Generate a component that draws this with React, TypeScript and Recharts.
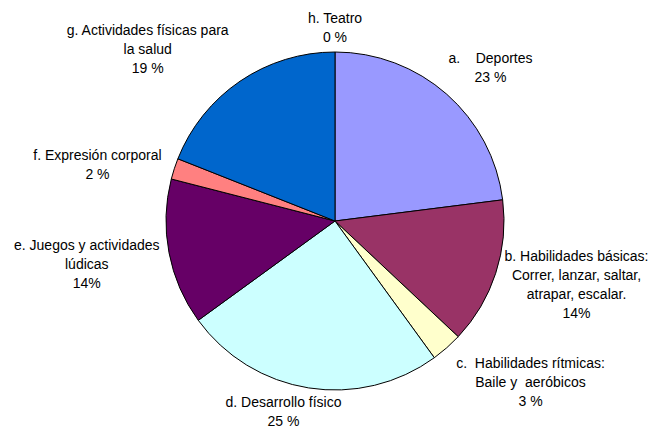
import { PieChart, Pie, Cell } from 'recharts';

const categories = [
  'a. Deportes',
  'b. Habilidades básicas',
  'c. Habilidades rítmicas',
  'd. Desarrollo físico',
  'e. Juegos y actividades lúdicas',
  'f. Expresión corporal',
  'g. Actividades físicas para la salud',
  'h. Teatro',
];

const percents = [23, 14, 3, 25, 14, 2, 19, 0];

const labelLines = [
  ['a.    Deportes', '23 %'],
  ['b. Habilidades básicas:', 'Correr, lanzar, saltar,', 'atrapar, escalar.', '14%'],
  ['c.  Habilidades rítmicas:', 'Baile y  aeróbicos', '3 %'],
  ['d. Desarrollo físico', '25 %'],
  ['e. Juegos y actividades', 'lúdicas', '14%'],
  ['f. Expresión corporal', '2 %'],
  ['g. Actividades físicas para', 'la salud', '19 %'],
  ['h. Teatro', '0 %'],
];

const colors = ['#9999FF', '#993366', '#FFFFCC', '#CCFFFF', '#660066', '#FF8080', '#0066CC', '#CCCCFF'];

// label nudges relative to a point 45px outside the rim
const nudges = [
  [14, 8],
  [38, -2],
  [54, 1],
  [-18, -20],
  [-38, 4],
  [-34, 11],
  [-67, 6],
  [0, 21],
];

const data = categories.map((name, i) => ({ name, value: percents[i] }));

const RAD = Math.PI / 180;
const LINE_H = 19;

function renderLabel(props: any) {
  const { cx, cy, midAngle, outerRadius, index } = props;
  const r = outerRadius + 45;
  const x = cx + r * Math.cos(-midAngle * RAD) + nudges[index][0];
  const y = cy + r * Math.sin(-midAngle * RAD) + nudges[index][1];
  const lines = labelLines[index];
  const top = y - ((lines.length - 1) * LINE_H) / 2;
  return (
    <text
      key={index}
      x={x}
      y={top}
      textAnchor="middle"
      dominantBaseline="middle"
      fill="#000"
      fontSize={14}
      fontFamily="Liberation Sans, Arial, sans-serif"
      style={{ whiteSpace: 'pre' }}
    >
      {lines.map((l, k) => (
        <tspan key={k} x={x} y={top + k * LINE_H}>
          {l}
        </tspan>
      ))}
    </text>
  );
}

export default function App() {
  return (
    <div style={{ position: 'absolute', left: 0, top: 0, background: '#fff' }}>
      <PieChart width={650} height={430} margin={{ top: 0, right: 0, bottom: 0, left: 0 }}>
        <Pie
          data={data}
          dataKey="value"
          nameKey="name"
          cx={335}
          cy={221}
          outerRadius={169}
          startAngle={90}
          endAngle={-270}
          stroke="#000"
          strokeWidth={1}
          label={renderLabel}
          labelLine={false}
          isAnimationActive={false}
        >
          {data.map((d, i) => (
            <Cell key={d.name} fill={colors[i]} />
          ))}
        </Pie>
      </PieChart>
    </div>
  );
}
